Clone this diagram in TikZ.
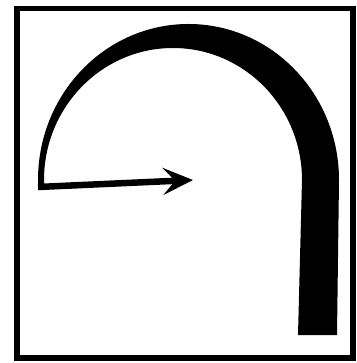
\documentclass[tikz,border=0pt]{standalone}
\usepackage{tikz}
\usetikzlibrary{arrows.meta}

\begin{document}
\begin{tikzpicture}[
    x=1pt, y=-1pt,
    frame/.style={
        draw,
        line width=5.5pt
    },
    band/.style={
        fill=black
    },
    arrow/.style={
        line width=6.5pt,
        -{Stealth[length=30pt,width=27pt,inset=12pt]}
    }
]
\useasboundingbox (0,0) rectangle (356,363);
\draw[frame] (17,8.5) rectangle (353,358);
% the bent band, thick on the right, thin on the left
\fill[band] (337,335) -- (339,180)
    arc[start angle=0, end angle=-180, x radius=150.5, y radius=156]
    -- (38,190) -- (44,186) -- (44,180)
    arc[start angle=180, end angle=360, x radius=129, y radius=132]
    -- (298,335) -- cycle;
\coordinate (corner) at (38,187);
\coordinate (tip) at (193,180);
\draw[arrow] (corner) -- (tip);
\end{tikzpicture}
\end{document}
